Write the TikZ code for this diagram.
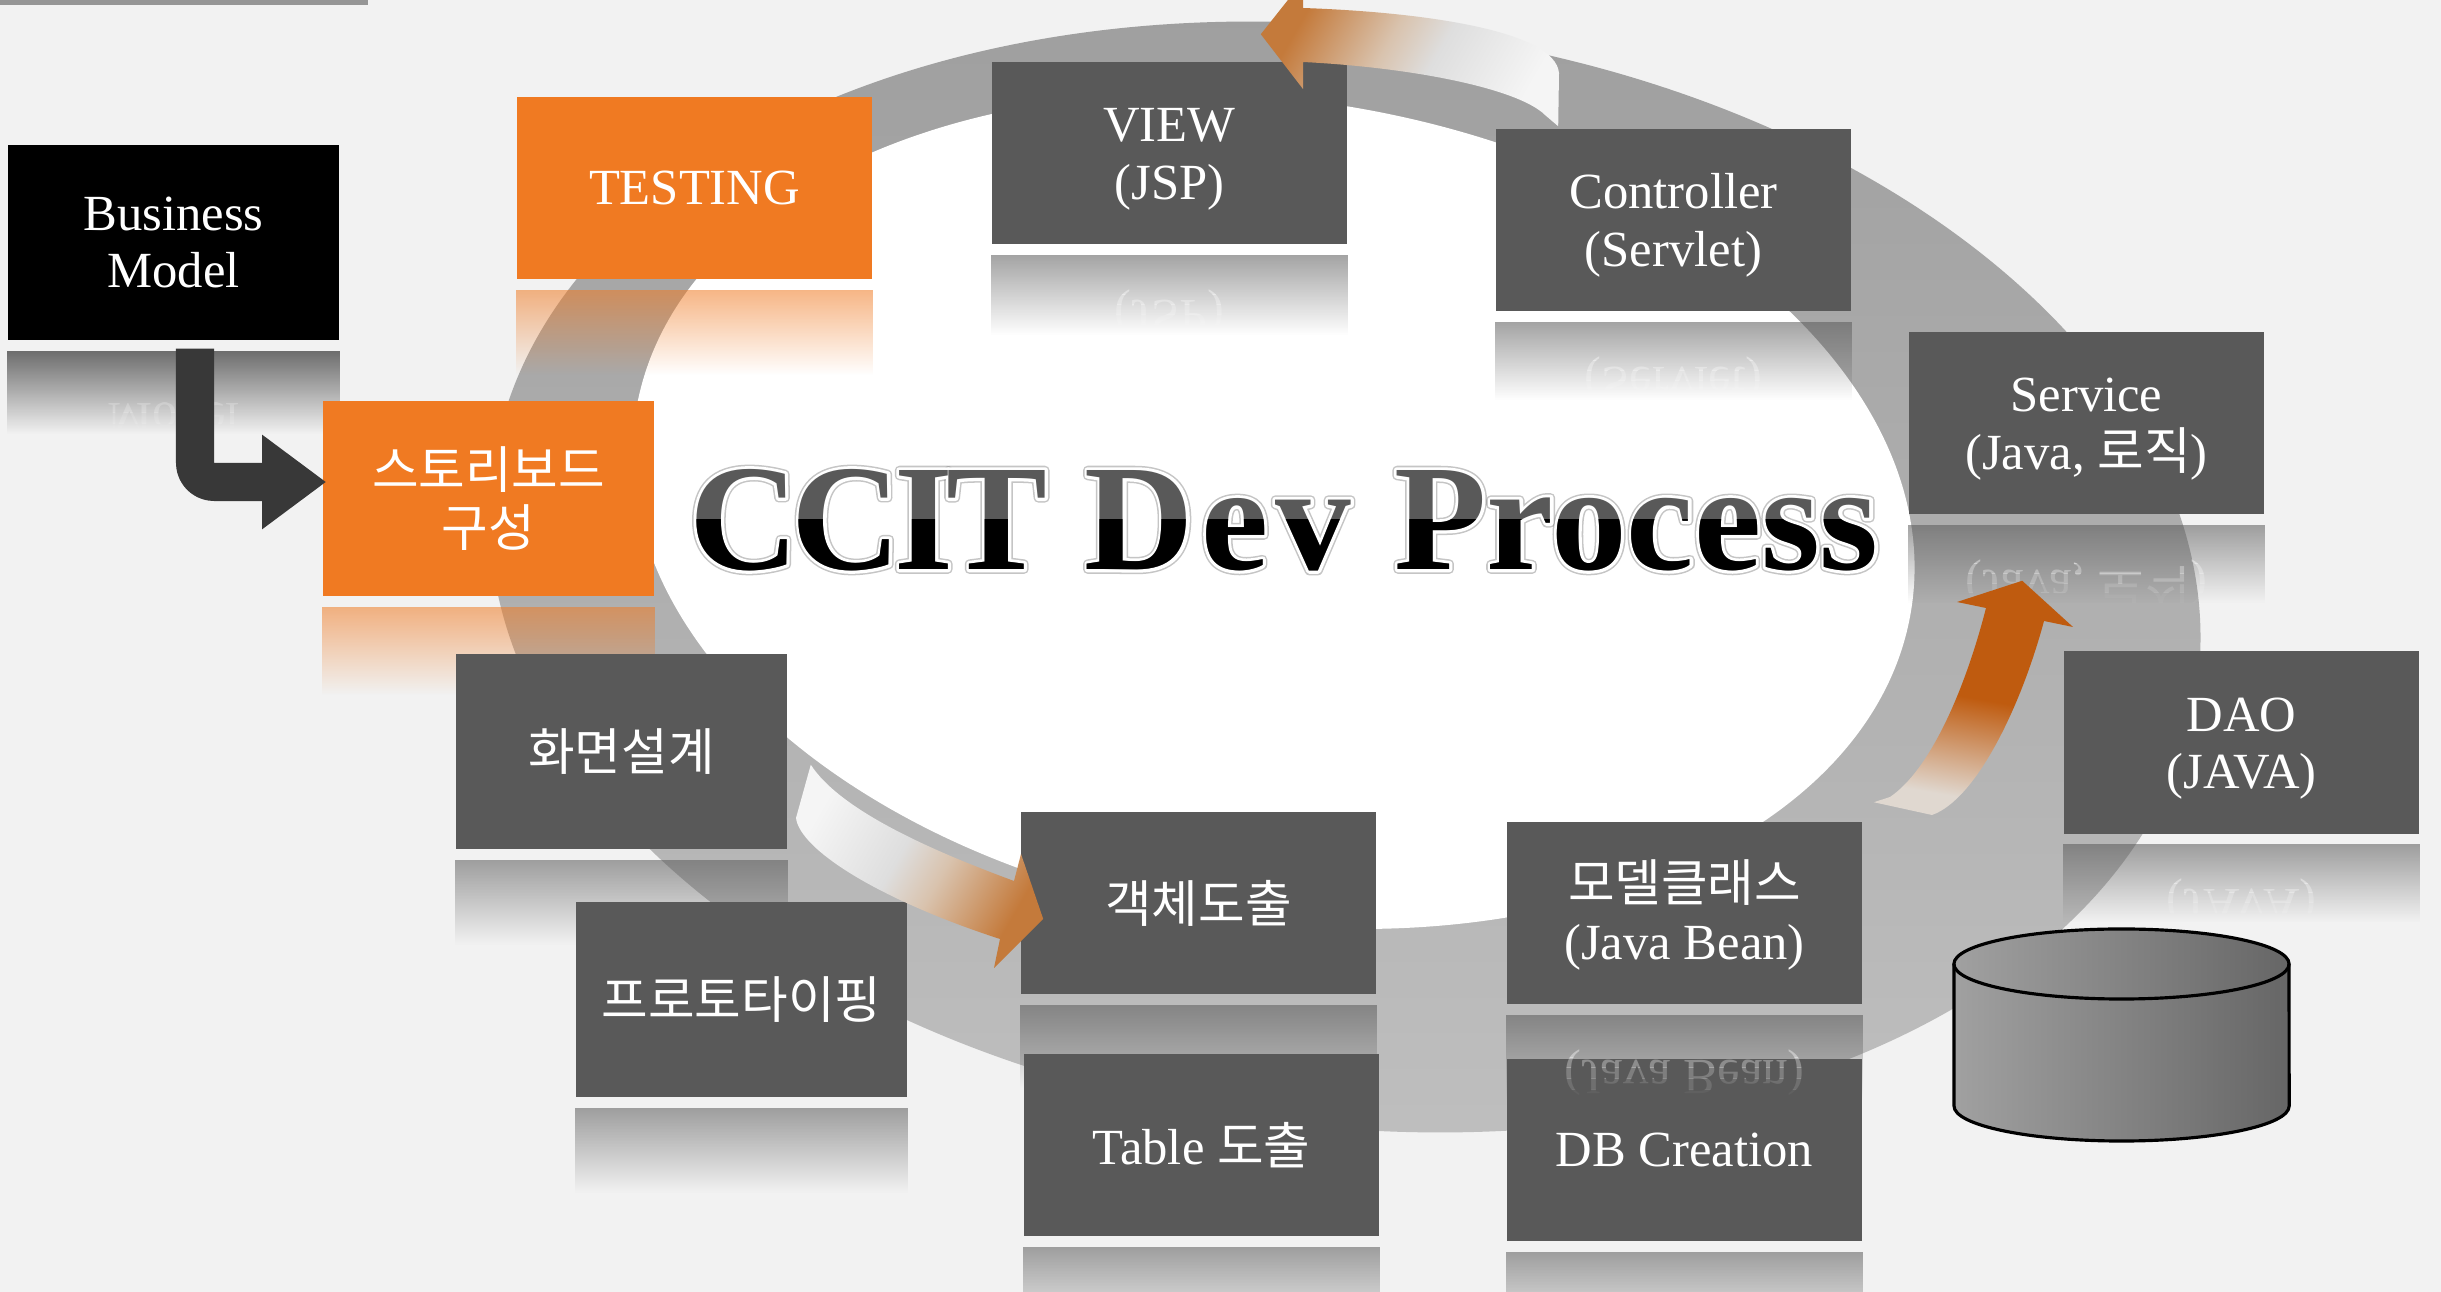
\documentclass[tikz,border=0pt]{standalone}
\usepackage{fontspec}
\setmainfont{Liberation Serif}
\newfontfamily\krfont{Noto Sans CJK KR}
\newfontfamily\titlefont{Liberation Serif}[UprightFont=* Bold]
\newfontfamily\titleedge{Liberation Serif}[UprightFont=* Bold, FakeBold=4]
\newfontfamily\titleglow{Liberation Serif}[UprightFont=* Bold, FakeBold=6]
\usetikzlibrary{arrows.meta,calc,fadings}
\definecolor{pagegray}{HTML}{F2F2F2}
\definecolor{boxgray}{HTML}{595959}
\definecolor{boxorange}{HTML}{F07A22}
\definecolor{ringtop}{HTML}{9E9E9E}
\definecolor{ringbot}{HTML}{BEBEBE}
\definecolor{tipbrown}{HTML}{C47A3B}
\definecolor{tipburn}{HTML}{BF5B0F}
\definecolor{midtan}{HTML}{D9C3AE}
\definecolor{midpale}{HTML}{DEDEDE}
\definecolor{endpale}{HTML}{F5F5F5}
\definecolor{burnend}{HTML}{E0D8D0}
\pgfdeclarehorizontalshading{fadearrow}{100bp}{color(0bp)=(tipbrown); color(27bp)=(tipbrown); color(45bp)=(midtan); color(55bp)=(midpale); color(75bp)=(endpale); color(100bp)=(endpale)}
\pgfdeclarehorizontalshading{burnarrow}{100bp}{color(0bp)=(tipburn); color(25bp)=(tipburn); color(50bp)=(tipburn); color(72bp)=(burnend); color(100bp)=(burnend)}
\tikzfading[name=reflfade, top color=transparent!45, bottom color=transparent!100]
\tikzset{
	stepbox/.style={fill=boxgray, text=white, align=center, inner sep=0, minimum width=3.55cm, minimum height=1.82cm},
	tallbox/.style={stepbox, minimum width=3.31cm, minimum height=1.95cm},
	mirrortext/.style={yscale=-1, transform shape, text=white, align=center, inner sep=0},
	bentarrow/.style={line width=.38cm, line cap=butt, draw=black!78, rounded corners=.19cm, -{Triangle[length=.64cm, width=.9cm]}}
}
\newcommand{\kr}[1]{{\krfont #1}}
\newcommand{\lowline}{\rule{0pt}{13pt}}
\newcommand{\reflect}[3]{
	\fill[#2, path fading=reflfade] ([shift={(0,10)}]#1.south west) rectangle ([shift={(0,10+#3)}]#1.south east);
}
\newcommand{\reflecttext}[3]{
	\foreach \s [evaluate=\s as \op using {.72*(1-(\s+.5)/8)}, evaluate=\s as \t using {10+#3*\s/8}, evaluate=\s as \b using {10+#3*(\s+1)/8}] in {0,...,7}{
		\begin{scope}
			\clip ([shift={(0,\t)}]#1.south west) rectangle ([shift={(0,\b)}]#1.south east);
			\path let \p1=(#1.north), \p2=(#1.south) in (\x2,{\y2-.1cm-(\y1-\y2)/2}) node[mirrortext, text opacity=\op] (#1m\s) {#2};
		\end{scope}
	}
}
\begin{document}
\begin{tikzpicture}[x=.01cm, y=-.01cm, line join=round, font=\fontsize{14.4}{16.4}\selectfont]
	\useasboundingbox (0,0) rectangle (2441,1292);
	\clip (0,0) rectangle (2441,1292);
	\fill[pagegray] (0,0) rectangle (2441,1292);
	\fill[black!41] (0,0) rectangle (368,5);
	\shade[top color=ringtop, bottom color=ringbot] (1345,577) circle [x radius=8.587cm, y radius=5.493cm, rotate=-6.93];
	\fill[white] (1273.5,511) circle [x radius=6.45cm, y radius=4.11cm, rotate=-8.6];
	\node[tallbox, fill=black] (business) at (173.5,242.5) {Business\\Model};
	\reflect{business}{black}{83}
	\reflecttext{business}{Business\\Model}{83}
	\node[stepbox, fill=boxorange] (testing) at (694.5,188) {TESTING};
	\reflect{testing}{boxorange}{85}
	\node[stepbox] (view) at (1169.5,153) {\lowline VIEW\\(JSP)};
	\reflect{view}{boxgray}{80}
	\reflecttext{view}{\lowline VIEW\\(JSP)}{80}
	\node[stepbox] (controller) at (1673.5,220) {\lowline Controller\\(Servlet)};
	\reflect{controller}{boxgray}{78}
	\reflecttext{controller}{\lowline Controller\\(Servlet)}{78}
	\node[stepbox] (service) at (2086.5,423) {\lowline Service\\(Java, \kr{로직})};
	\reflect{service}{boxgray}{78}
	\reflecttext{service}{\lowline Service\\(Java, \kr{로직})}{78}
	\node[stepbox] (dao) at (2241.5,742.5) {\lowline DAO\\(JAVA)};
	\reflect{dao}{boxgray}{78}
	\reflecttext{dao}{\lowline DAO\\(JAVA)}{78}
	\node[tallbox, fill=boxorange] (story) at (488.5,498.5) {\kr{스토리보드}\\\kr{구성}};
	\reflect{story}{boxorange}{88}
	\node[tallbox] (screen) at (621.5,751.5) {\kr{화면설계}};
	\reflect{screen}{boxgray}{85}
	\node[tallbox] (proto) at (741.5,999.5) {\kr{프로토타이핑}};
	\reflect{proto}{boxgray}{85}
	\node[stepbox] (object) at (1198.5,903) {\kr{객체도출}};
	\reflect{object}{boxgray}{85}
	\node[stepbox] (table) at (1201.5,1145) {Table \kr{도출}};
	\reflect{table}{boxgray}{85}
	\node[stepbox] (model) at (1684.5,913) {\lowline\kr{모델클래스}\\(Java Bean)};
	\reflect{model}{boxgray}{85}
	\node[stepbox] (dbcreate) at (1684.5,1150) {DB Creation};
	\reflect{dbcreate}{boxgray}{85}
	\reflecttext{model}{\lowline\kr{모델클래스}\\(Java Bean)}{85}
	\coordinate (ctrltail) at ([shift={(63,-2)}]controller.north west);
	\coordinate (viewtip) at ([shift={(-87,-27)}]view.north east);
	\shade[shading=fadearrow, shading angle=-30] (ctrltail) -- (1559,73) .. controls (1555,30) and (1420,12) .. (1303,8) -- (1303,-19) -- (viewtip) -- (1303,89) -- (1303,62) .. controls (1420,68) and (1520,90) .. (1545,115) -- cycle;
	\coordinate (screentail) at ([shift={(23,-85)}]screen.south east);
	\coordinate (objecttip) at ([shift={(23,16)}]object.west);
	\shade[shading=fadearrow, shading angle=150] (screentail) -- (796,818) .. controls (800,850) and (880,900) .. (1000,939) -- (994,968) -- (objecttip) -- (1021,854) -- (1014,881) .. controls (930,850) and (840,810) .. (screentail) -- cycle;
	\coordinate (modeltail) at ([shift={(11,-19)}]model.north east);
	\coordinate (servicetip) at ([shift={(114,66)}]service.south west);
	\shade[shading=burnarrow, shading angle=-100] (modeltail) -- (1932,815) .. controls (1975,800) and (2020,710) .. (2044,621) -- (2073,627) -- (servicetip) -- (1957,602) -- (1986,608) .. controls (1965,690) and (1930,770) .. (1890,797) -- cycle;
	\draw[bentarrow] ([shift={(21.5,8)}]business.south) |- ([shift={(4,-16.5)}]story.west);
	\path[left color=black!37, right color=black!60] (1954,964) -- (1954,1106) arc[start angle=180, end angle=360, x radius=1.675cm, y radius=.35cm] -- (2289,964) arc[start angle=0, end angle=180, x radius=1.675cm, y radius=.35cm] -- cycle;
	\draw[line width=.9pt] (1954,964) -- (1954,1106) arc[start angle=180, end angle=360, x radius=1.675cm, y radius=.35cm] -- (2289,964);
	\draw[line width=.9pt] (2121.5,964) ellipse [x radius=1.675cm, y radius=.35cm];
	\path (1284,520) node[text=black!45, text opacity=.5, font=\titleglow\fontsize{43}{43}\selectfont] (titleglow) {C\kern-1.9pt C\kern-1.9pt I\kern-1.9pt T D\kern2pt e\kern2pt v\kern1.6pt{} Process};
	\path (1284,520) node[text=white, font=\titleedge\fontsize{43}{43}\selectfont] (titleedge) {C\kern-1.9pt C\kern-1.9pt I\kern-1.9pt T D\kern2pt e\kern2pt v\kern1.6pt{} Process};
	\path (1284,520) node[text=boxgray, font=\titlefont\fontsize{43}{43}\selectfont] (title) {C\kern-1.9pt C\kern-1.9pt I\kern-1.9pt T D\kern2pt e\kern2pt v\kern1.6pt{} Process};
	\begin{scope}
		\clip (680,520) rectangle (1900,600);
		\path (1284,520) node[text=black, font=\titlefont\fontsize{43}{43}\selectfont] (titlelow) {C\kern-1.9pt C\kern-1.9pt I\kern-1.9pt T D\kern2pt e\kern2pt v\kern1.6pt{} Process};
	\end{scope}
\end{tikzpicture}
\end{document}
